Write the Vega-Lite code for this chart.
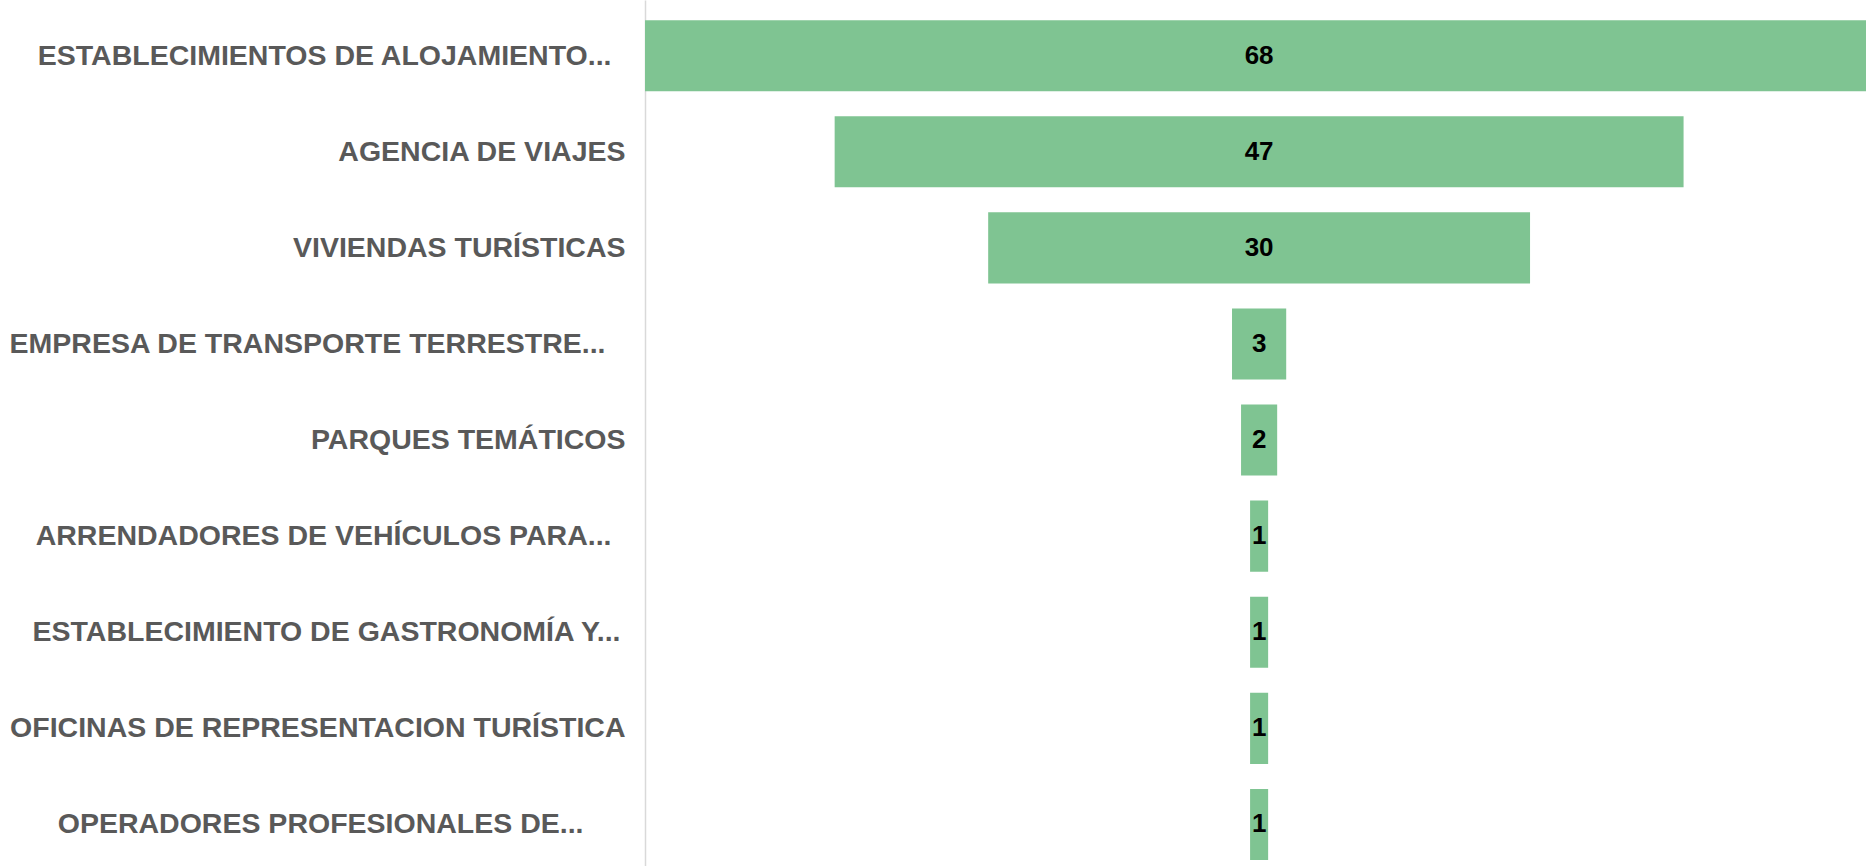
{
  "$schema": "https://vega.github.io/schema/vega-lite/v6.json",
  "autosize": {"type": "none"},
  "padding": {"left": 645, "top": 0, "right": 0, "bottom": 0},
  "width": 1221,
  "height": 866,
  "background": "white",
  "config": {"view": {"stroke": null}},
  "data": {"values": [
    {"categoria": "ESTABLECIMIENTOS DE ALOJAMIENTO...", "valor": 68},
    {"categoria": "AGENCIA DE VIAJES", "valor": 47},
    {"categoria": "VIVIENDAS TURÍSTICAS", "valor": 30},
    {"categoria": "EMPRESA DE TRANSPORTE TERRESTRE...", "valor": 3},
    {"categoria": "PARQUES TEMÁTICOS", "valor": 2},
    {"categoria": "ARRENDADORES DE VEHÍCULOS PARA...", "valor": 1},
    {"categoria": "ESTABLECIMIENTO DE GASTRONOMÍA Y...", "valor": 1},
    {"categoria": "OFICINAS DE REPRESENTACION TURÍSTICA", "valor": 1},
    {"categoria": "OPERADORES PROFESIONALES DE...", "valor": 1}
  ]},
  "encoding": {
    "y": {
      "field": "categoria", "type": "nominal", "sort": null,
      "scale": {"paddingInner": 0.26, "paddingOuter": 0.136, "align": 0.77},
      "axis": {
        "title": null, "ticks": false, "domainColor": "#d9d9d9", "domainWidth": 1.5,
        "labelFont": "Liberation Sans", "labelFontWeight": "bold", "labelFontSize": 28.5,
        "labelColor": "#595959", "labelLimit": 700,
        "labelPadding": {
          "condition": [
            {"test": "datum.value == 'OPERADORES PROFESIONALES DE...'", "value": 62},
            {"test": "datum.value == 'EMPRESA DE TRANSPORTE TERRESTRE...'", "value": 40},
            {"test": "datum.value == 'ESTABLECIMIENTOS DE ALOJAMIENTO...' || datum.value == 'ARRENDADORES DE VEHÍCULOS PARA...'", "value": 34},
            {"test": "datum.value == 'ESTABLECIMIENTO DE GASTRONOMÍA Y...'", "value": 25}
          ],
          "value": 20
        }
      }
    }
  },
  "layer": [
    {
      "mark": {"type": "bar", "color": "#7FC492", "clip": false},
      "encoding": {
        "x": {"field": "valor", "type": "quantitative", "stack": "center",
              "scale": {"domain": [0, 67.6], "nice": false, "zero": false}, "axis": null}
      }
    },
    {
      "mark": {"type": "text", "font": "Liberation Sans", "fontWeight": "bold", "fontSize": 26, "color": "black", "baseline": "middle", "align": "center"},
      "encoding": {
        "x": {"datum": 34, "type": "quantitative"},
        "text": {"field": "valor", "type": "quantitative"}
      }
    }
  ]
}
